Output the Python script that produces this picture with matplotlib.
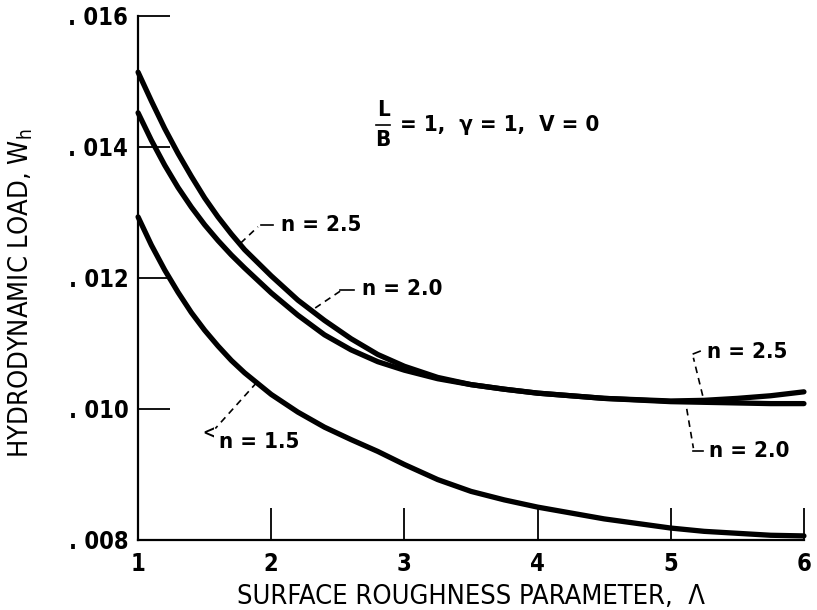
import matplotlib.pyplot as plt
from matplotlib import font_manager

# a narrow lettering looks closest to the original drawing
probe = font_manager.FontProperties(family='DejaVu Sans', stretch='condensed')
if 'Condensed' in font_manager.findfont(probe, fallback_to_default=True):
    plt.rcParams['font.family'] = ['DejaVu Sans']
    plt.rcParams['font.stretch'] = 'condensed'
    narrow = True
else:
    plt.rcParams['font.family'] = ['Liberation Sans', 'DejaVu Sans']
    narrow = False
plt.rcParams['mathtext.default'] = 'regular'
plt.rcParams['font.weight'] = 'bold' if narrow else 'normal'

# roughness parameter (Lambda)
lam = [1.0, 1.1, 1.2, 1.3, 1.4, 1.5, 1.6, 1.7, 1.8, 2.0, 2.2, 2.4, 2.6, 2.8,
       3.0, 3.25, 3.5, 3.75, 4.0, 4.5, 5.0, 5.25, 5.5, 5.75, 6.0]

# hydrodynamic load
w_n25 = [.01514, .01470, .01428, .01390, .01355, .01322, .01293, .01267,
         .01243, .01203, .01166, .01135, .01107, .01083, .01065, .01048,
         .01037, .01030, .01024, .01016, .01012, .01013, .01016, .01020,
         .01026]
w_n20 = [.01452, .01410, .01372, .01338, .01308, .01281, .01257, .01235,
         .01215, .01177, .01143, .01113, .01090, .01072, .01059, .01046,
         .01037, .01030, .01024, .01016, .01011, .01010, .01009, .01008,
         .01008]
w_n15 = [.01293, .01250, .01212, .01178, .01147, .01120, .01096, .01074,
         .01055, .01022, .00995, .00972, .00953, .00935, .00915, .00892,
         .00874, .00861, .00850, .00832, .00818, .00813, .00810, .00807,
         .00806]

xticks = [1, 2, 3, 4, 5, 6]
yticks = [.008, .010, .012, .014, .016]
ytick_labels = ['. 008', '. 010', '. 012', '. 014', '. 016']

fig = plt.figure(figsize=(8.17, 6.10), dpi=100)
ax = fig.add_axes([0.169, 0.115, 0.815, 0.859])

for w in (w_n25, w_n20, w_n15):
    ax.plot(lam, w, color='black', lw=3.8, solid_capstyle='round',
            solid_joinstyle='round', clip_on=False)

ax.set_xlim(1, 6)
ax.set_ylim(.008, .016)
ax.spines['top'].set_visible(False)
ax.spines['right'].set_visible(False)
for s in ('left', 'bottom'):
    ax.spines[s].set_linewidth(1.6)

ax.set_xticks(xticks)
ax.set_yticks(yticks)
ax.set_yticklabels(ytick_labels)
ax.tick_params(direction='in', length=23, width=1.3, labelsize=17, pad=7)
ax.tick_params(axis='x', pad=9)

fs = 19.5 if narrow else 17
ax.set_xlabel('SURFACE ROUGHNESS PARAMETER,  Λ', fontsize=fs)
ax.xaxis.set_label_coords(0.5, -0.085)
ax.set_ylabel('HYDRODYNAMIC LOAD, W$_h$', fontsize=fs)
ax.yaxis.set_label_coords(-0.155, 0.47)

# condition note
ax.text(2.84, .014565, 'L', fontsize=16, ha='center', va='center')
ax.text(2.84, .01411, 'B', fontsize=16, ha='center', va='center')
ax.plot([2.79, 2.89], [.01434, .01434], color='black', lw=1.2)
ax.text(2.97, .01434, '= 1,  γ = 1,  V = 0', fontsize=16, va='center')

# curve labels with leaders
kw = dict(color='black', lw=1.2, ls=(0, (4, 3)))
ax.plot([1.77, 1.90], [1.253e-2, 1.278e-2], **kw)
ax.plot([1.92, 2.01], [.01280, .01280], color='black', lw=1.2)
ax.text(2.07, .01280, 'n = 2.5', fontsize=16, va='center')

ax.plot([2.33, 2.52], [.01154, .01180], **kw)
ax.plot([2.52, 2.62], [.01182, .01182], color='black', lw=1.2)
ax.text(2.68, .01183, 'n = 2.0', fontsize=16, va='center')

ax.plot([1.89, 1.58], [.01040, .00970], **kw)
ax.text(1.53, .00963, '<', fontsize=12, va='center', ha='center')
ax.text(1.61, .00950, 'n = 1.5', fontsize=16, va='center')

ax.plot([5.24, 5.17], [.01020, .01078], **kw)
ax.plot([5.17, 5.22], [.01084, .01088], color='black', lw=1.2)
ax.text(5.27, .01087, 'n = 2.5', fontsize=16, va='center')

ax.plot([5.12, 5.17], [.01000, .00940], **kw)
ax.plot([5.17, 5.24], [.00935, .00935], color='black', lw=1.2)
ax.text(5.29, .00935, 'n = 2.0', fontsize=16, va='center')

fig.savefig('out.png', dpi=100)
